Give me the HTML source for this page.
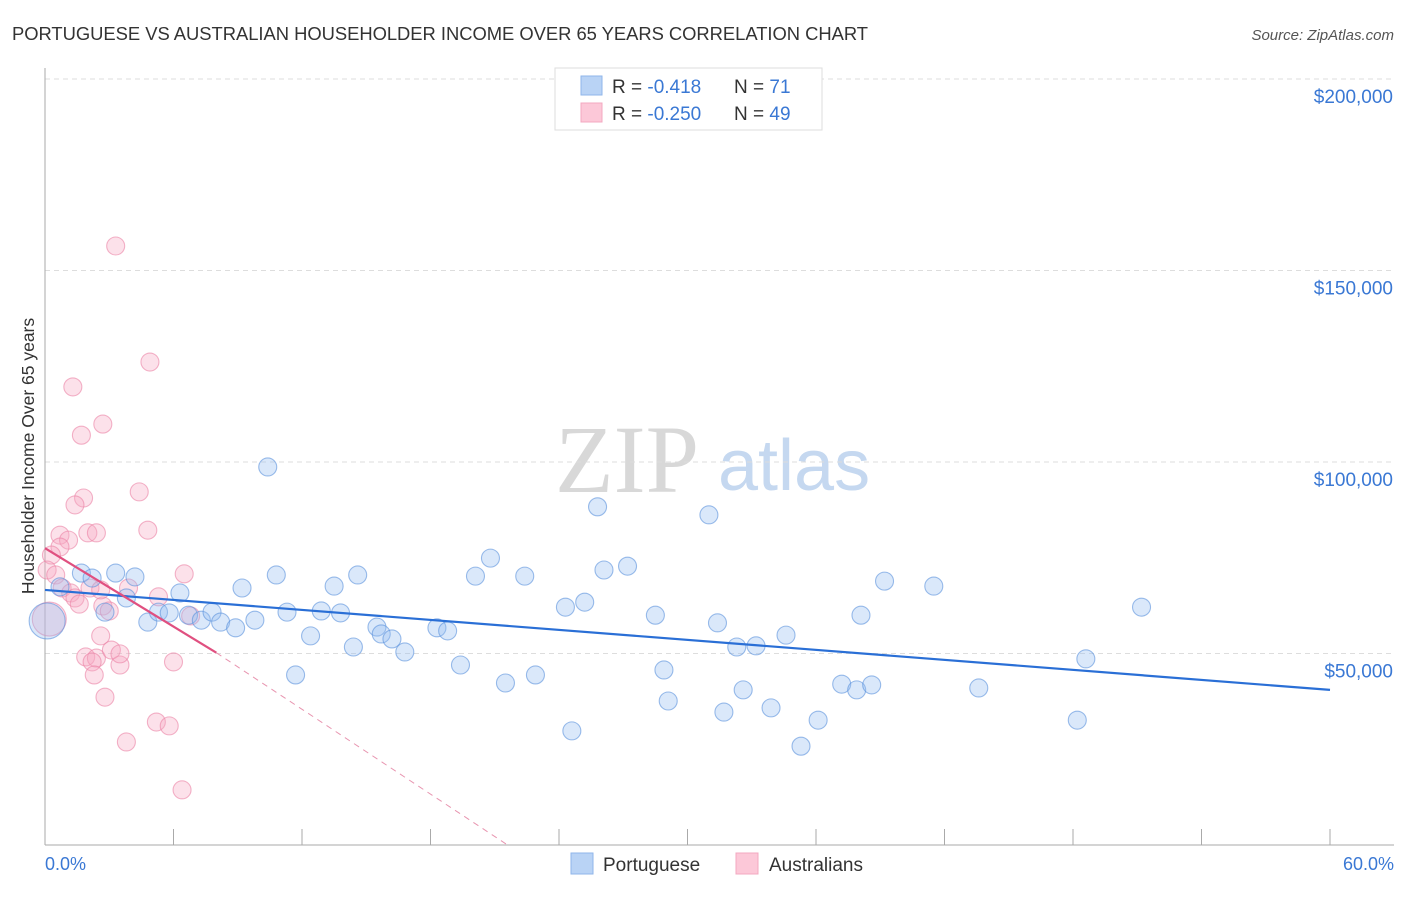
<!DOCTYPE html>
<html><head><meta charset="utf-8"><style>
body{margin:0;background:#fff;font-family:"Liberation Sans",sans-serif;}
</style></head><body>
<svg id="chart" width="1406" height="892" viewBox="0 0 1406 892" xmlns="http://www.w3.org/2000/svg">
<text x="12" y="40" font-size="18.4" fill="#333" textLength="856">PORTUGUESE VS AUSTRALIAN HOUSEHOLDER INCOME OVER 65 YEARS CORRELATION CHART</text>
<text x="1394" y="40" font-size="15" fill="#555" font-style="italic" text-anchor="end">Source: ZipAtlas.com</text>
<g>
<text x="555" y="492" font-size="96" fill="#d8d8d8" font-family="Liberation Serif,serif">ZIP</text>
<text x="718" y="490" font-size="72" fill="#c5d8f0">atlas</text>
</g>
<g id="grid"></g>
<g id="pts"></g>
<g id="lines"></g>
<text transform="translate(34,456) rotate(-90)" font-size="17.5" fill="#333" text-anchor="middle">Householder Income Over 65 years</text>
<text x="45" y="870" font-size="18" fill="#3a78d4">0.0%</text>
<text x="1394" y="870" font-size="18" fill="#3a78d4" text-anchor="end">60.0%</text>
<g>
<rect x="555" y="68" width="267" height="62" fill="#fff" stroke="#ddd"/>
<rect x="581" y="76" width="21" height="19" fill="#b9d3f5" stroke="#8fb6ea"/>
<rect x="581" y="103" width="21" height="19" fill="#fcc8d8" stroke="#f3a8c0"/>
<text x="612" y="93" font-size="19" fill="#333">R = <tspan fill="#3a78d4"> -0.418</tspan><tspan x="734">N = </tspan><tspan fill="#3a78d4"> 71</tspan></text>
<text x="612" y="120" font-size="19" fill="#333">R = <tspan fill="#3a78d4">-0.250</tspan><tspan x="734">N = </tspan><tspan fill="#3a78d4">49</tspan></text>
</g>
<g>
<rect x="571" y="853" width="22" height="21" fill="#b9d3f5" stroke="#8fb6ea"/>
<text x="603" y="871" font-size="19" fill="#333">Portuguese</text>
<rect x="736" y="853" width="22" height="21" fill="#fcc8d8" stroke="#f3a8c0"/>
<text x="769" y="871" font-size="19" fill="#333">Australians</text>
</g>
</svg>
<script>
const yTicks=[50000,100000,150000,200000];
const yTickLabels=["$50,000","$100,000","$150,000","$200,000"];
const xTicks=[0,6,12,18,24,30,36,42,48,54,60];
const portX=[0.1,0.7,1.7,2.2,2.8,3.3,3.8,4.2,4.8,5.3,5.8,6.3,6.7,7.3,7.8,8.2,8.9,9.2,9.8,10.4,10.8,11.3,11.7,12.4,12.9,13.5,13.8,14.4,14.6,15.5,15.7,16.2,16.8,18.3,18.8,19.4,20.1,20.8,21.5,22.4,22.9,24.3,24.6,25.2,25.8,26.1,27.2,28.5,28.9,29.1,31,31.4,31.7,32.3,32.6,33.2,33.9,34.6,35.3,36.1,37.2,37.9,38.1,38.6,39.2,41.5,43.6,48.2,48.6,51.2];
const portY=[58.5,67.4,71,69.7,60.8,71,64.5,70,58.2,60.8,60.6,65.8,60,58.7,60.8,58.2,56.7,67.1,58.7,98.7,70.5,60.8,44.4,54.6,61.1,67.6,60.6,51.7,70.5,56.9,55.1,53.8,50.4,56.7,55.9,47,70.2,74.9,42.3,70.2,44.4,62.1,29.8,63.4,88.3,71.8,72.8,60,45.7,37.6,86.2,58,34.7,51.7,40.5,52,35.8,54.8,25.8,32.6,42,40.5,60,41.8,68.9,67.6,41,32.6,48.6,62.1];
const portBig=[0];
const ausX=[3.3,4.9,1.3,2.7,1.7,1.8,4.4,1.4,4.8,0.7,2,2.4,1.1,0.7,0.3,0.1,0.5,6.5,0.8,1.2,2.1,1.4,1.6,2.7,3,5.3,3.9,6.8,2.6,0.2,2.6,1.9,2.4,2.2,3.1,3.5,3.5,6,2.3,2.8,5.2,5.8,3.8,6.4];
const ausY=[156.4,126.1,119.6,109.9,107,90.6,92.2,88.8,82.2,80.9,81.5,81.5,79.6,77.8,75.7,71.8,70.5,70.8,67.1,65.8,67.1,64.5,62.9,62.4,61.1,64.8,67.1,59.8,66.6,59,54.6,49.1,48.8,47.8,50.9,47,49.9,47.8,44.4,38.6,32.1,31.1,26.9,14.4];
const ausBig=[29];
const portTrend=[[0,66.6],[60,40.5]];
const ausTrend=[[0,77.5],[8.0,50.2]];
const ausTrendExt=[[8.0,50.2],[21.6,0]];

const NS="http://www.w3.org/2000/svg";
const X=v=>45+v/60*1285;
const Y=v=>845-v/50000*191.5;
const Yk=v=>Y(v*1000);
function mk(t,a,p){const e=document.createElementNS(NS,t);for(const k in a)e.setAttribute(k,a[k]);p.appendChild(e);return e;}
const grid=document.getElementById('grid');
yTicks.forEach((t,i)=>{
 const l=mk('line',{x1:45,x2:1394,y1:Y(t),y2:Y(t),stroke:'#ddd','stroke-dasharray':'5,4'},grid);
 
 
 const tx=mk('text',{x:1393,y:Y(t)+24,'font-size':19,fill:'#3a78d4','text-anchor':'end'},grid);
 tx.textContent=yTickLabels[i];
 
 
});
const ax=mk('line',{x1:45,x2:45,y1:68,y2:845,stroke:'#aaa'},grid);


const bx=mk('line',{x1:45,x2:1394,y1:845,y2:845,stroke:'#aaa'},grid);


xTicks.forEach(t=>{
 const l=mk('line',{x1:X(t),x2:X(t),y1:829,y2:845,stroke:'#aaa'},grid);
 
 
});
const pts=document.getElementById('pts');
ausX.forEach((x,i)=>{
 const c=mk('circle',{cx:X(x),cy:Yk(ausY[i]),r:ausBig.includes(i)?17:9,fill:'rgba(246,170,195,0.35)',stroke:'rgba(235,130,165,0.6)','stroke-width':1.1},pts);
 
 
});
portX.forEach((x,i)=>{
 const c=mk('circle',{cx:X(x),cy:Yk(portY[i]),r:portBig.includes(i)?18:9,fill:'rgba(150,190,240,0.35)',stroke:'rgba(90,145,220,0.6)','stroke-width':1.1},pts);
 
 
});
const lines=document.getElementById('lines');
const l1=mk('line',{x1:X(portTrend[0][0]),y1:Yk(portTrend[0][1]),x2:X(portTrend[1][0]),y2:Yk(portTrend[1][1]),stroke:'#2a6fd6','stroke-width':2.2},lines);


const l2=mk('line',{x1:X(ausTrend[0][0]),y1:Yk(ausTrend[0][1]),x2:X(ausTrend[1][0]),y2:Yk(ausTrend[1][1]),stroke:'#e05080','stroke-width':2.2},lines);


const l3=mk('line',{x1:X(ausTrendExt[0][0]),y1:Yk(ausTrendExt[0][1]),x2:X(ausTrendExt[1][0]),y2:Yk(ausTrendExt[1][1]),stroke:'#e895b0','stroke-width':1,'stroke-dasharray':'6,5'},lines);


</script>
</body></html>
